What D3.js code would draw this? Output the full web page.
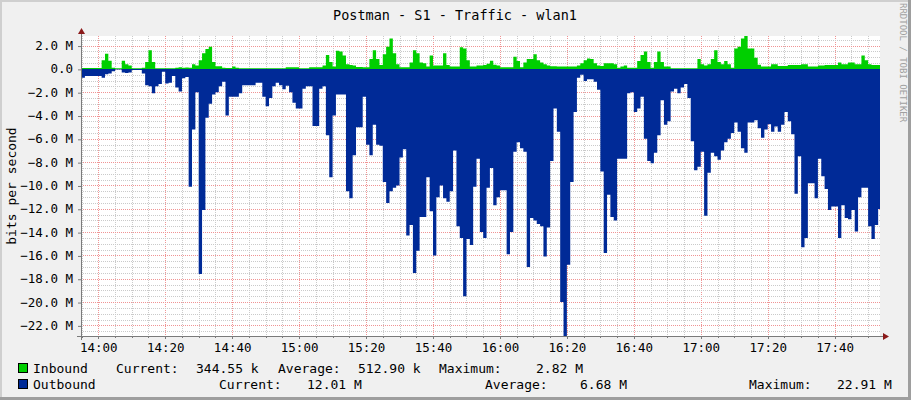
<!DOCTYPE html>
<html><head><meta charset="utf-8">
<script src="https://cdn.jsdelivr.net/npm/d3@7"></script>
<style>body{margin:0;background:#fff}svg{display:block}text{font-family:'DejaVu Sans Mono',monospace}</style>
</head><body><svg id="c" width="911" height="400"></svg>
<script>
// ---- data (values in Mbit/s, one sample per minute starting 13:54) ----
const startTime = "13:54";
const inbound = [
0.27,0.08,0.08,0.08,0.08,0.08,0.08,0.75,1.3,0.7,0.1,0.05,0.05,0.7,0.4,0.28,0.05,0.05,0.05,0.1,
0.6,1.6,0.6,0.05,0.05,0.05,0.05,0.05,0.05,0.1,0.15,0.1,0.12,0.1,0.4,0.28,0.75,1.35,1.7,1.9,0.6,
0.22,0.22,0.1,0.08,0.08,0.2,0.1,0.05,0.05,0.05,0.05,0.05,0.05,0.05,0.05,0.05,0.05,0.05,0.05,0.05,0.05,
0.15,0.15,0.15,0.15,0.05,0.05,0.05,0.13,0.13,0.13,0.13,0.28,1.2,0.6,0.2,1.55,1.5,1.15,0.4,
0.33,0.28,0.16,0.16,0.13,0.13,0.85,1.6,0.85,0.33,1.25,1.9,2.6,1.35,0.4,0.13,0.13,0.13,0.55,1.6,
1.35,0.55,0.48,0.2,1.15,0.28,0.28,0.28,1.35,0.33,0.2,0.2,0.2,1.85,1.75,0.75,0.2,0.2,0.28,0.28,
0.33,0.45,0.7,0.35,0.28,0.13,0.13,0.13,0.13,1.05,0.68,0.13,0.55,0.85,0.85,1.25,0.75,0.55,0.4,0.28,
0.22,0.22,0.2,0.2,0.2,0.2,0.2,0.2,0.28,0.48,0.75,0.9,0.85,0.48,0.3,0.25,0.48,0.48,0.48,
0.4,0.1,0.2,0.28,0.1,0.1,0.1,0.68,1.2,1.5,0.6,0.1,0.6,1.5,0.6,0.2,0.2,
0.05,0.05,0.05,0.05,0.05,0.05,0.05,0.05,
0.85,0.4,0.28,0.4,0.85,1.6,0.6,0.4,0.68,0.4,0.1,1.75,1.9,2.6,2.82,
1.75,1.75,0.95,0.35,0.2,0.2,0.2,0.4,0.4,0.25,0.25,0.25,0.33,0.33,0.33,0.33,0.4,0.4,0.2,0.2,
0.2,0.28,0.28,0.33,0.33,0.33,0.33,0.55,0.4,0.4,0.55,0.55,0.4,0.4,1.15,0.75,0.4,0.33,0.33,0.34
];
const outbound = [
0.75,0.75,0.6,0.6,0.6,0.6,0.6,0.75,0.45,0.4,0.2,0.05,0.05,0.3,0.35,0.3,0.1,0.1,0.1,0.4,
1.4,1.5,2.1,1.5,1.3,0.25,1.25,1.2,0.6,1.6,1.95,0.8,0.7,10.1,5.2,2.0,17.6,12.1,4.2,3.0,2.2,
2.0,1.5,1.1,4.0,2.4,2.4,2.4,2.1,1.4,1.4,1.4,1.4,1.2,1.2,2.4,3.2,2.5,1.5,1.2,1.4,
1.75,1.45,2.0,2.9,3.4,3.4,1.7,1.5,1.5,4.9,4.9,1.7,1.5,5.7,9.3,4.0,2.2,2.2,2.2,10.5,
11.1,7.4,5.0,5.0,2.4,6.5,7.4,4.8,6.5,6.6,9.7,11.5,10.5,10.2,10.0,7.6,6.9,14.3,13.4,17.5,
15.6,12.7,12.7,9.3,12.2,16.0,11.0,10.0,11.1,11.4,10.5,7.0,13.5,14.5,19.5,14.6,15.1,10.1,7.7,14.0,
14.5,10.2,8.5,11.7,11.0,10.4,10.4,15.9,14.0,7.1,6.3,6.8,7.1,17.0,12.8,13.0,13.3,13.5,16.1,13.6,
7.9,3.4,5.4,20.0,22.91,16.8,9.7,3.7,0.75,0.5,1.05,0.9,0.9,1.1,1.8,8.8,15.8,10.8,12.7,
13.0,7.7,7.7,7.7,2.1,2.0,3.7,3.4,2.4,6.0,7.9,8.1,7.2,5.7,2.7,4.8,4.5,1.95,1.7,2.1,
1.6,1.3,2.5,6.2,8.7,8.4,7.1,12.6,8.9,7.2,7.5,7.8,7.0,6.3,6.0,5.5,4.6,5.4,6.8,7.2,
4.6,4.6,4.4,5.1,5.9,5.2,4.75,5.4,4.95,5.4,4.8,3.7,4.5,5.6,10.7,7.5,15.3,14.5,9.8,9.8,
11.1,7.7,9.2,10.3,12.1,11.8,11.8,14.5,11.7,12.8,12.9,12.1,13.95,11.0,10.2,10.2,13.5,14.6,13.4,12.01
];
const yTickValues = [2,0,-2,-4,-6,-8,-10,-12,-14,-16,-18,-20,-22];
const xTickLabels = ["14:00","14:20","14:40","15:00","15:20","15:40","16:00","16:20","16:40","17:00","17:20","17:40"];
const titleText = "Postman - S1 - Traffic - wlan1";
const yAxisTitle = "bits per second";
const watermark = "RRDTOOL / TOBI OETIKER";
const seriesNames = ["Inbound","Outbound"];
const seriesColors = ["#00CF00","#002A97"];
const legendStats = [
  [["Current:","344.55 k"],["Average:","512.90 k"],["Maximum:","2.82 M"]],
  [["Current:","12.01 M"],["Average:","6.68 M"],["Maximum:","22.91 M"]]
];

// ---- build ----
const svg = d3.select("#c");
const W = 911, H = 400;
const L = 81, R = 880, T = 36, B = 336;
const day = "2024-01-01T";
const t0 = new Date(day + startTime + ":00");
const mkDate = m => new Date(+t0 + m*60000);
const x = d3.scaleTime().domain([new Date(day+"13:54:50"), new Date(day+"17:53:33")]).range([L, R]);
const y = d3.scaleLinear().domain([-22.91, 2.82]).range([B, T]);

// background + shading frame
svg.append("rect").attr("width",W).attr("height",H).attr("fill","#F0F0F0");
svg.append("rect").attr("x",0).attr("y",0).attr("width",W).attr("height",2).attr("fill","#CFCFCF");
svg.append("rect").attr("x",0).attr("y",0).attr("width",2).attr("height",H).attr("fill","#CFCFCF");
svg.append("rect").attr("x",W-3).attr("y",0).attr("width",3).attr("height",H).attr("fill","#9E9E9E");
svg.append("rect").attr("x",0).attr("y",H-3).attr("width",W).attr("height",3).attr("fill","#9E9E9E");
svg.append("rect").attr("x",L).attr("y",T).attr("width",R-L).attr("height",B-T).attr("fill","#FFFFFF");

// grid
const g = svg.append("g");
const crisp = v => Math.round(v)+0.5;
const minorTimes = d3.timeMinute.every(5).range(new Date(day+"13:55:00"), new Date(day+"17:54:00"));
minorTimes.forEach(d => {
  const major = d.getMinutes()%20===0;
  g.append("line").attr("x1",crisp(x(d))).attr("x2",crisp(x(d))).attr("y1",T).attr("y2",B)
   .attr("stroke", major ? "#F09494" : "#CACACA").attr("stroke-dasharray","1,1");
});
d3.range(-22.5, 2.6, 0.5).forEach(v => {
  const major = Math.abs(v%2)<1e-9;
  g.append("line").attr("x1",L).attr("x2",R).attr("y1",crisp(y(v))).attr("y2",crisp(y(v)))
   .attr("stroke", major ? "#F09494" : "#CACACA").attr("stroke-dasharray","1,1");
});

// areas
const mk = arr => { const d = arr.map((v,i)=>({t:mkDate(i), v})); d.push({t:mkDate(arr.length), v:arr[arr.length-1]}); return d; };
svg.append("clipPath").attr("id","clip").append("rect").attr("x",L+1).attr("y",T).attr("width",R-L-1).attr("height",B-T);
const plot = svg.append("g").attr("clip-path","url(#clip)");
const area = d3.area().x(d=>x(d.t)).y0(y(0)).y1(d=>y(d.v)).curve(d3.curveStepAfter);
plot.append("path").datum(mk(inbound)).attr("d",area).attr("fill",seriesColors[0]);
plot.append("path").datum(mk(outbound.map(v=>-v))).attr("d",area).attr("fill",seriesColors[1]);

// axes lines
svg.append("line").attr("x1",L-4).attr("x2",R+3).attr("y1",B+0.5).attr("y2",B+0.5).attr("stroke","#7A7A7A");
svg.append("line").attr("x1",L+0.5).attr("x2",L+0.5).attr("y1",B+4).attr("y2",T-3).attr("stroke","#7A7A7A");
svg.append("path").attr("d",`M${L-3},${T-2} L${L+4},${T-2} L${L+0.5},${T-8} Z`).attr("fill","#8B1A1A");
svg.append("path").attr("d",`M${R+3},${B-3} L${R+3},${B+4} L${R+9},${B+0.5} Z`).attr("fill","#8B1A1A");

// x ticks and labels
minorTimes.forEach(d => {
  const major = d.getMinutes()%20===0;
  svg.append("line").attr("x1",crisp(x(d))).attr("x2",crisp(x(d))).attr("y1",B+1).attr("y2",B+(major?3:2)).attr("stroke","#7A7A7A");
});
const xAxis = d3.axisBottom(x).tickValues(xTickLabels.map(s=>new Date(day+s+":00"))).tickSize(0).tickFormat((d,i)=>xTickLabels[i]);
const xa = svg.append("g").attr("transform",`translate(0,${B})`).call(xAxis);
xa.select(".domain").remove();
xa.selectAll("text").attr("dy",null).attr("y",16).attr("font-size","12.5px").attr("fill","#000").attr("font-family","'DejaVu Sans Mono',monospace");

// y ticks and labels
const yAxis = d3.axisLeft(y).tickValues(yTickValues).tickSize(3).tickPadding(5)
  .tickFormat(v => v===0 ? "0.0" : d3.format(".1f")(v)+" M");
const ya = svg.append("g").attr("transform",`translate(${L},0)`).call(yAxis);
ya.select(".domain").remove();
ya.selectAll("line").attr("stroke","#7A7A7A").attr("transform","translate(0,0.5)");
ya.selectAll("text").attr("font-size","12.5px").attr("fill","#000").attr("font-family","'DejaVu Sans Mono',monospace").attr("x",-8);

// titles
svg.append("text").attr("x",455).attr("y",20).attr("text-anchor","middle").attr("font-size","13.5px").attr("fill","#000").text(titleText);
svg.append("text").attr("transform","translate(16,186) rotate(-90)").attr("text-anchor","middle").attr("font-size","13px").attr("fill","#000").text(yAxisTitle);
svg.append("text").attr("transform","translate(900,3) rotate(90)").attr("font-size","9px").attr("fill","#A0A0A0").text(watermark);

// legend
const legY = [373, 389];
const statX = [[116,196,278,358,439,536],[219,307,485,580,749,837]];
seriesNames.forEach((name,i)=>{
  svg.append("rect").attr("x",18.5).attr("y",legY[i]-9.5).attr("width",9).attr("height",9)
     .attr("fill",seriesColors[i]).attr("stroke","#000").attr("stroke-width",1);
  svg.append("text").attr("x",33).attr("y",legY[i]).attr("font-size","13px").attr("fill","#000").text(name);
  legendStats[i].forEach((p,j)=>{
    svg.append("text").attr("x",statX[i][2*j]).attr("y",legY[i]).attr("font-size","13px").attr("fill","#000").text(p[0]);
    svg.append("text").attr("x",statX[i][2*j+1]).attr("y",legY[i]).attr("font-size","13px").attr("fill","#000").text(p[1]);
  });
});
</script></body></html>
